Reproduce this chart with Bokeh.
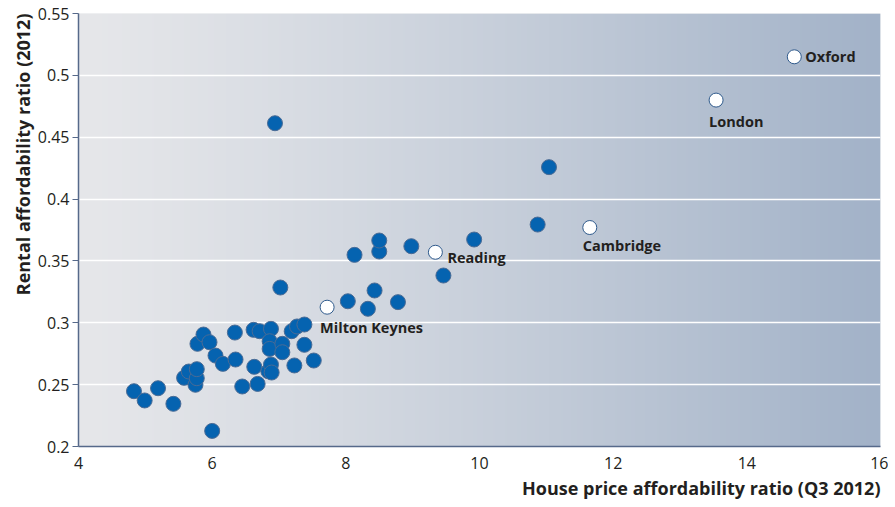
import numpy as np
from bokeh.plotting import figure
from bokeh.models import ColumnDataSource, Title, FixedTicker
from bokeh.core.properties import value
from bokeh.embed import file_html
from bokeh.resources import INLINE

# ---- data ----
house_ratio = [4.83, 4.99, 5.19, 5.42, 6.00, 5.58, 5.65, 5.75, 5.77, 5.77,
               5.78, 5.87, 5.96, 6.05, 6.16, 6.34, 6.35, 6.45, 6.62, 6.71,
               6.63, 6.68, 6.88, 6.86, 6.86, 7.05, 7.05, 6.84, 6.88, 6.89,
               7.19, 7.27, 7.38, 7.38, 7.23, 7.52, 6.94, 7.02, 8.03, 8.33,
               8.43, 8.78, 8.13, 8.50, 8.50, 8.98, 9.46, 9.92, 10.87, 11.04]
rent_ratio = [0.2447, 0.2372, 0.2471, 0.2345, 0.2126, 0.2555, 0.2606, 0.2499, 0.2552, 0.2625,
              0.2830, 0.2905, 0.2843, 0.2735, 0.2668, 0.2921, 0.2703, 0.2485, 0.2943, 0.2932,
              0.2644, 0.2506, 0.2951, 0.2851, 0.2789, 0.2830, 0.2762, 0.2608, 0.2662, 0.2598,
              0.2932, 0.2970, 0.2986, 0.2822, 0.2655, 0.2695, 0.4613, 0.3285, 0.3174, 0.3113,
              0.3261, 0.3167, 0.3549, 0.3576, 0.3665, 0.3619, 0.3382, 0.3673, 0.3794, 0.4258]

city_names = ["Oxford", "London", "Cambridge", "Reading", "Milton Keynes"]
city_house = [14.71, 13.54, 11.65, 9.34, 7.72]
city_rent = [0.515, 0.480, 0.377, 0.357, 0.3126]

x_ticks = [4, 6, 8, 10, 12, 14, 16]
y_ticks = [0.2, 0.25, 0.3, 0.35, 0.4, 0.45, 0.5, 0.55]
y_tick_labels = ["0.2", "0.25", "0.3", "0.35", "0.4", "0.45", "0.5", "0.55"]
x_title = "House price affordability ratio (Q3 2012)"
y_title = "Rental affordability ratio (2012)"

# ---- styles ----
FONT = "Open Sans"
TEXT = "#231f20"
SLATE = "#56698a"
label_dx = [11, -7, -7, 12, -7]
label_dy = [0, 21, 18, 5, 20]

x0, x1 = x_ticks[0], x_ticks[-1]
y0, y1 = y_ticks[0], y_ticks[-1]

p = figure(width=888, height=506, x_range=(x0, x1), y_range=(y0, y1),
           output_backend="svg", toolbar_location=None,
           min_border_left=78, min_border_right=8, min_border_top=13, min_border_bottom=60)
p.outline_line_color = None
p.background_fill_color = "#e6e7ea"
p.border_fill_color = "white"

# horizontal gradient background
n = 400
t = np.linspace(0, 1, n) ** 1.2
c0 = np.array([0xe6, 0xe7, 0xea], dtype=float)
c1 = np.array([0xa2, 0xb2, 0xc8], dtype=float)
cols = c0[None, :] * (1 - t[:, None]) + c1[None, :] * t[:, None]
img = np.zeros((2, n), dtype=np.uint32)
view = img.view(dtype=np.uint8).reshape((2, n, 4))
for k in range(3):
    view[:, :, k] = cols[:, k].astype(np.uint8)
view[:, :, 3] = 255
p.image_rgba(image=[img], x=x0, y=y0, dw=x1 - x0, dh=y1 - y0, level="image")

# grids
p.xgrid.grid_line_color = None
p.ygrid.ticker = FixedTicker(ticks=y_ticks)
p.ygrid.grid_line_color = "white"
p.ygrid.grid_line_width = 1.5

# axes
p.xaxis.ticker = FixedTicker(ticks=x_ticks)
p.yaxis.ticker = FixedTicker(ticks=y_ticks)
p.yaxis.major_label_overrides = {v: s for v, s in zip(y_ticks, y_tick_labels)}
for ax in (p.xaxis, p.yaxis):
    ax.axis_line_color = SLATE
    ax.axis_line_width = 1.5
    ax.minor_tick_line_color = None
    ax.major_label_text_font = FONT
    ax.major_label_text_font_size = "16px"
    ax.major_label_text_color = TEXT
p.xaxis.major_tick_line_color = None
p.xaxis.major_tick_out = 0
p.xaxis.major_tick_in = 0
p.xaxis.major_label_standoff = 10
p.yaxis.major_tick_line_color = SLATE
p.yaxis.major_tick_out = 6
p.yaxis.major_tick_in = 0
p.yaxis.major_label_standoff = 3

# titles
p.add_layout(Title(text=x_title, align="right", text_font=FONT, text_font_size="18px",
                   text_font_style="bold", text_color=TEXT, standoff=4), "below")
p.add_layout(Title(text=y_title, align="right", text_font=FONT, text_font_size="18px",
                   text_font_style="bold", text_color=TEXT, standoff=0), "left")

# points
p.scatter(house_ratio, rent_ratio, size=15, fill_color="#0563b0", line_color="#4a6b95", line_width=1)

src = ColumnDataSource(dict(x=city_house, y=city_rent, name=city_names, dx=label_dx, dy=label_dy))
p.scatter("x", "y", source=src, size=14, fill_color="white", line_color="#2f5a8c", line_width=1)
p.text("x", "y", text="name", source=src, x_offset="dx", y_offset="dy",
       text_align="left", text_baseline="middle", text_font=value(FONT),
       text_font_size="14.5px", text_font_style="bold", text_color=TEXT)

open("out.html", "w").write(file_html(p, INLINE))
